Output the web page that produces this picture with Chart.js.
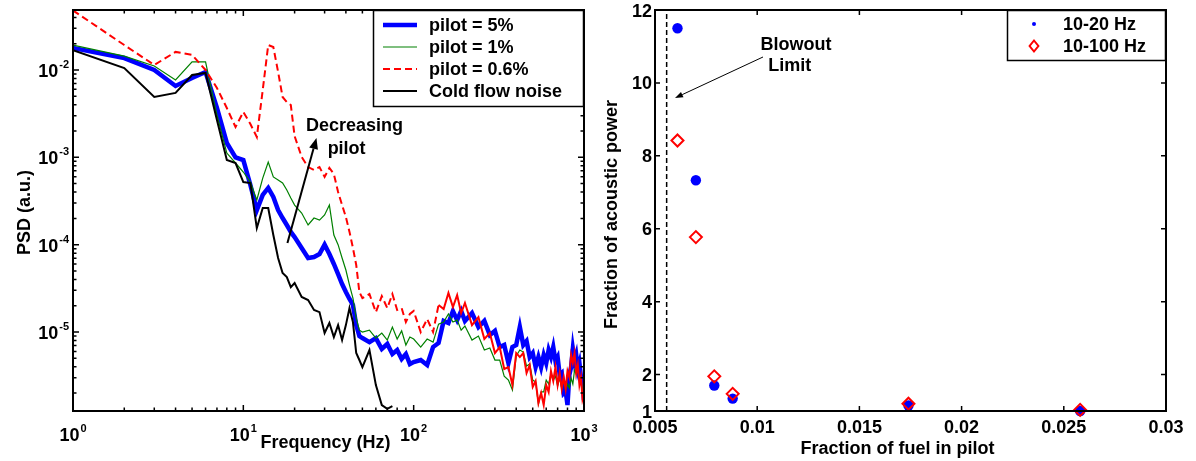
<!DOCTYPE html>
<html><head><meta charset="utf-8">
<script src="https://cdn.jsdelivr.net/npm/chart.js@4.4.0/dist/chart.umd.min.js"></script>
<style>
html,body{margin:0;padding:0;background:#fff;}
#wrap{position:relative;width:1196px;height:461px;overflow:hidden;}
.pane{position:absolute;top:0;width:598px;height:461px;}
</style></head><body>
<div id="wrap">
<div class="pane" style="left:0"><canvas id="c1" width="598" height="461"></canvas></div>
<div class="pane" style="left:598px"><canvas id="c2" width="598" height="461"></canvas></div>
</div>
<script>
// ---------------- data: left panel (PSD) ----------------
const freqs = [1,2,3,4,5,6,7,8,9,10,11,12,13,14,15,16,17,18,19,20,
  22,24,26,28,30,32,34,36,38,40,42,44,46,48,50,
  55,60,65,70,75,80,85,90,95,
  100,110,120,130,140,150,160,170,180,190,200,
  220,240,260,280,300,320,340,360,380,400,420,440,460,480,500,520,540,560,580,600,
  620,640,660,680,700,720,740,760,780,800,820,840,860,880,900,920,940,960,980,1000];

const psdPilot5 = [1.79e-2,1.37e-2,1.0e-2,6.56e-3,8.09e-3,9.48e-3,3.67e-3,1.46e-3,1.0e-3,9.3e-4,4.82e-4,2.49e-4,3.71e-4,4.46e-4,3.52e-4,2.49e-4,2.02e-4,1.68e-4,1.40e-4,1.22e-4,
  9.16e-5,7.03e-5,7.23e-5,7.82e-5,1.0e-4,7.82e-5,6.01e-5,4.61e-5,3.54e-5,2.87e-5,2.39e-5,2.04e-5,1.20e-5,8.99e-6,8.53e-6,
  7.67e-6,8.53e-6,6.39e-6,7.29e-6,5.60e-6,6.22e-6,4.91e-6,5.60e-6,4.30e-6,
  4.53e-6,4.78e-6,4.19e-6,6.73e-6,7.48e-6,1.34e-5,1.27e-5,1.74e-5,1.37e-5,1.74e-5,1.34e-5,
  1.65e-5,1.14e-5,1.34e-5,9.24e-6,1.03e-5,6.73e-6,7.10e-6,4.41e-6,6.73e-6,7.10e-6,1.14e-5,7.10e-6,7.89e-6,5.17e-6,5.75e-6,3.97e-6,5.17e-6,3.97e-6,5.45e-6,4.41e-6,
  6.22e-6,5.17e-6,6.73e-6,4.65e-6,5.17e-6,3.22e-6,3.39e-6,2.00e-6,2.11e-6,1.46e-6,3.22e-6,3.97e-6,6.39e-6,4.65e-6,5.45e-6,3.77e-6,4.41e-6,3.05e-6,3.05e-6,1.66e-6];

const psdPilot1 = [1.93e-2,1.44e-2,1.11e-2,7.68e-3,1.24e-2,1.24e-2,3.05e-3,1.12e-3,8.61e-4,6.79e-4,5.21e-4,3.25e-4,5.79e-4,8.83e-4,5.96e-4,5.50e-4,5.08e-4,4.23e-4,3.42e-4,2.84e-4,
  2.30e-4,1.68e-4,2.02e-4,1.91e-4,2.19e-4,2.84e-4,1.29e-4,1.0e-4,7.03e-5,5.13e-5,3.45e-5,2.45e-5,1.445e-5,1.05e-5,1.0e-5,
  1.05e-5,8.53e-6,9.74e-6,8.09e-6,1.14e-5,8.31e-6,1.03e-5,7.10e-6,8.77e-6,
  8.31e-6,6.73e-6,8.31e-6,7.67e-6,1.23e-5,1.30e-5,1.61e-5,1.30e-5,1.37e-5,1.05e-5,1.17e-5,
  8.09e-6,8.99e-6,6.22e-6,6.56e-6,4.78e-6,4.78e-6,3.13e-6,2.82e-6,2.17e-6,5.31e-6,6.22e-6,5.90e-6,4.08e-6,4.30e-6,2.82e-6,2.67e-6,1.50e-6,2.06e-6,2.06e-6,2.82e-6,
  2.54e-6,3.30e-6,2.82e-6,3.13e-6,2.41e-6,2.97e-6,2.29e-6,2.82e-6,2.17e-6,2.54e-6,2.29e-6,2.97e-6,2.54e-6,3.67e-6,3.30e-6,3.67e-6,2.67e-6,2.97e-6,2.17e-6,2.29e-6];

const psdPilot06 = [4.8e-2,1.93e-2,1.14e-2,1.61e-2,1.49e-2,1.0e-2,6.22e-3,3.67e-3,2.22e-3,3.30e-3,2.41e-3,1.71e-3,5.90e-3,1.93e-2,1.83e-2,9.5e-3,4.91e-3,4.30e-3,3.97e-3,1.75e-3,
  1.01e-3,7.74e-4,7.16e-4,7.74e-4,5.96e-4,7.55e-4,6.44e-4,4.01e-4,2.84e-4,2.07e-4,1.40e-4,9.16e-5,5.85e-5,2.87e-5,2.45e-5,
  2.72e-5,1.69e-5,2.58e-5,1.88e-5,2.72e-5,1.79e-5,1.88e-5,1.30e-5,1.61e-5,
  1.74e-5,1.00e-5,1.41e-5,1.00e-5,2.04e-5,1.83e-5,2.80e-5,1.93e-5,2.65e-5,1.65e-5,2.15e-5,
  1.20e-5,1.48e-5,8.31e-6,9.74e-6,5.75e-6,6.73e-6,3.77e-6,3.97e-6,2.47e-6,5.75e-6,5.17e-6,5.75e-6,3.39e-6,4.19e-6,2.35e-6,2.75e-6,1.54e-6,2.00e-6,1.46e-6,2.47e-6,
  2.06e-6,3.57e-6,2.75e-6,3.97e-6,2.47e-6,3.39e-6,2.23e-6,3.05e-6,2.23e-6,3.57e-6,3.05e-6,5.45e-6,4.41e-6,5.75e-6,3.39e-6,4.19e-6,2.47e-6,3.05e-6,1.71e-6,2.00e-6];

// cold flow noise leaves the plotted range above ~75 Hz
const psdColdFlow = [1.69e-2,1.05e-2,4.91e-3,5.46e-3,8.77e-3,9.24e-3,2.68e-3,9.31e-4,8.61e-4,5.21e-4,5.08e-4,1.55e-4,2.63e-4,2.63e-4,1.29e-4,7.03e-5,4.73e-5,4.26e-5,3.27e-5,3.64e-5,
  2.52e-5,2.32e-5,1.79e-5,1.69e-5,9.74e-6,1.27e-5,8.77e-6,1.20e-5,8.09e-6,1.20e-5,1.88e-5,1.30e-5,5.75e-6,4.78e-6,3.97e-6,
  6.22e-6,2.47e-6,1.46e-6,1.32e-6,1.42e-6];

const xTicksL = [1, 10, 100, 1000];
const xTickExpL = ['0', '1', '2', '3'];
const yTicksL = [1e-2, 1e-3, 1e-4, 1e-5];
const yTickExpL = ['-2', '-3', '-4', '-5'];
const legendLabelsL = ['pilot = 5%', 'pilot = 1%', 'pilot = 0.6%', 'Cold flow noise'];

// ---------------- data: right panel ----------------
const fuelInPilot = [0.0061, 0.0070, 0.0079, 0.0088, 0.0174, 0.0258];
const power10to20 = [11.5, 7.33, 1.70, 1.34, 1.15, 1.00];
const power10to100 = [8.42, 5.77, 1.95, 1.47, 1.20, 1.03];
const blowoutLimit = 0.00557;
const xTicksR = [0.005, 0.01, 0.015, 0.02, 0.025, 0.03];
const xTickLabelsR = ['0.005', '0.01', '0.015', '0.02', '0.025', '0.03'];
const yTicksR = [1, 2, 4, 6, 8, 10, 12];
const legendLabelsR = ['10-20 Hz', '10-100 Hz'];

// ---------------- helpers ----------------
const FONT = '"Liberation Sans", Arial, Helvetica, sans-serif';
const BOLD = 'bold 18px ' + FONT;
const SUP = 'bold 11px ' + FONT;
function pts(xs, ys) { return ys.map((v, i) => ({ x: xs[i], y: v })); }

function arrow(ctx, x0, y0, x1, y1, lw, hl, hw) {
  const a = Math.atan2(y1 - y0, x1 - x0);
  const bx = x1 - hl * Math.cos(a), by = y1 - hl * Math.sin(a);
  ctx.save();
  ctx.strokeStyle = '#000'; ctx.fillStyle = '#000'; ctx.lineWidth = lw;
  ctx.beginPath(); ctx.moveTo(x0, y0); ctx.lineTo(bx, by); ctx.stroke();
  ctx.beginPath(); ctx.moveTo(x1, y1);
  ctx.lineTo(bx + hw * Math.sin(a), by - hw * Math.cos(a));
  ctx.lineTo(bx - hw * Math.sin(a), by + hw * Math.cos(a));
  ctx.closePath(); ctx.fill();
  ctx.restore();
}

function supLabel(ctx, base, exp, x, y, align) {
  ctx.font = BOLD; const wb = ctx.measureText(base).width;
  ctx.font = SUP; const we = ctx.measureText(exp).width;
  const x0 = align === 'center' ? x - (wb + we + 1) / 2 : x - wb - we - 1;
  ctx.textAlign = 'left'; ctx.textBaseline = 'alphabetic';
  ctx.font = BOLD; ctx.fillText(base, x0, y);
  ctx.font = SUP; ctx.fillText(exp, x0 + wb + 1, y - 9);
}

function frame(ctx, ca) {
  ctx.strokeStyle = '#000'; ctx.lineWidth = 2;
  ctx.strokeRect(ca.left, ca.top, ca.right - ca.left, ca.bottom - ca.top);
}
function xTick(ctx, ca, px, len) {
  ctx.beginPath();
  ctx.moveTo(px, ca.bottom); ctx.lineTo(px, ca.bottom - len);
  ctx.moveTo(px, ca.top); ctx.lineTo(px, ca.top + len);
  ctx.stroke();
}
function yTick(ctx, ca, py, len) {
  ctx.beginPath();
  ctx.moveTo(ca.left, py); ctx.lineTo(ca.left + len, py);
  ctx.moveTo(ca.right, py); ctx.lineTo(ca.right - len, py);
  ctx.stroke();
}

// ---------------- left chart ----------------
const seriesStyleL = [
  { color: '#0000ff', width: 4.5, dash: [] },
  { color: '#008000', width: 1.2, dash: [] },
  { color: '#ff0000', width: 2, dash: [7, 4] },
  { color: '#000000', width: 2, dash: [] }
];
// above this frequency the dense red dashes merge into a solid band in the original
const denseDashFrom = 140;

const leftDecor = {
  id: 'leftDecor',
  afterDraw(chart) {
    const ctx = chart.ctx, ca = chart.chartArea, xs = chart.scales.x, ys = chart.scales.y;
    ctx.save();
    frame(ctx, ca);
    ctx.lineWidth = 1.5; ctx.strokeStyle = '#000';
    [1, 10, 100].forEach(d => { for (let m = 2; m <= 9; m++) xTick(ctx, ca, xs.getPixelForValue(d * m), 3.5); });
    xTicksL.forEach(v => xTick(ctx, ca, xs.getPixelForValue(v), 6));
    [1e-6, 1e-5, 1e-4, 1e-3, 1e-2].forEach(d => {
      for (let m = 2; m <= 9; m++) { const v = d * m; if (v > ys.min && v < ys.max) yTick(ctx, ca, ys.getPixelForValue(v), 3.5); }
    });
    yTicksL.forEach(v => yTick(ctx, ca, ys.getPixelForValue(v), 6));
    ctx.fillStyle = '#000';
    xTicksL.forEach((v, i) => supLabel(ctx, '10', xTickExpL[i], xs.getPixelForValue(v), ca.bottom + 30, 'center'));
    yTicksL.forEach((v, i) => supLabel(ctx, '10', yTickExpL[i], ca.left - 4, ys.getPixelForValue(v) + 7, 'right'));
    ctx.font = BOLD; ctx.textAlign = 'center'; ctx.textBaseline = 'alphabetic';
    ctx.fillText('Frequency (Hz)', (ca.left + ca.right) / 2 - 3, ca.bottom + 37);
    ctx.save(); ctx.translate(30, (ca.top + ca.bottom) / 2 + 2); ctx.rotate(-Math.PI / 2);
    ctx.fillText('PSD (a.u.)', 0, 0); ctx.restore();
    arrow(ctx, xs.getPixelForValue(18.15), ys.getPixelForValue(1.045e-4), xs.getPixelForValue(26.88), ys.getPixelForValue(1.665e-3), 2, 11, 4.5);
    ctx.font = BOLD; ctx.textAlign = 'center'; ctx.fillStyle = '#000';
    ctx.fillText('Decreasing', xs.getPixelForValue(44.97), ys.getPixelForValue(1.98e-3));
    ctx.fillText('pilot', xs.getPixelForValue(40.4), ys.getPixelForValue(1.1e-3));
    const lx0 = ca.right - 211, ly0 = ca.top, lw = 211, lh = 97;
    ctx.fillStyle = '#fff'; ctx.fillRect(lx0, ly0, lw, lh);
    ctx.strokeStyle = '#000'; ctx.lineWidth = 1.5; ctx.strokeRect(lx0 + 0.5, ly0 + 0.5, lw - 1, lh - 1);
    legendLabelsL.forEach((t, i) => {
      const ry = ly0 + 15 + i * 22, st = seriesStyleL[i];
      ctx.save(); ctx.strokeStyle = st.color; ctx.lineWidth = st.width; ctx.setLineDash(st.dash);
      ctx.beginPath(); ctx.moveTo(lx0 + 10, ry); ctx.lineTo(lx0 + 44, ry); ctx.stroke(); ctx.restore();
      ctx.fillStyle = '#000'; ctx.font = BOLD; ctx.textAlign = 'left'; ctx.textBaseline = 'alphabetic';
      ctx.fillText(t, lx0 + 56, ry + 6);
    });
    ctx.restore();
  }
};

const seriesL = [psdPilot5, psdPilot1, psdPilot06, psdColdFlow];
new Chart(document.getElementById('c1'), {
  type: 'line',
  data: {
    datasets: seriesL.map((s, i) => {
      const ds = {
        label: legendLabelsL[i],
        data: pts(freqs, s),
        borderColor: seriesStyleL[i].color,
        borderWidth: seriesStyleL[i].width,
        borderDash: seriesStyleL[i].dash,
        pointRadius: 0, tension: 0, fill: false, spanGaps: false,
        order: 4 - i
      };
      if (seriesStyleL[i].dash.length) {
        const d = seriesStyleL[i].dash;
        ds.segment = { borderDash: c => (c.p0.parsed.x >= denseDashFrom ? [] : d) };
      }
      return ds;
    })
  },
  options: {
    responsive: false, animation: false, devicePixelRatio: 1,
    layout: { padding: { left: 73, top: 10, right: 14, bottom: 50 } },
    scales: {
      x: { type: 'logarithmic', min: 1, max: 1000, display: false },
      y: { type: 'logarithmic', min: 1.247e-6, max: 0.0486, display: false }
    },
    plugins: { legend: { display: false }, tooltip: { enabled: false } }
  },
  plugins: [leftDecor]
});

// ---------------- right chart ----------------
const rightDecor = {
  id: 'rightDecor',
  afterDraw(chart) {
    const ctx = chart.ctx, ca = chart.chartArea, xs = chart.scales.x, ys = chart.scales.y;
    ctx.save();
    frame(ctx, ca);
    ctx.lineWidth = 1.5; ctx.strokeStyle = '#000';
    xTicksR.forEach(v => xTick(ctx, ca, xs.getPixelForValue(v), 5));
    yTicksR.forEach(v => yTick(ctx, ca, ys.getPixelForValue(v), 5));
    ctx.fillStyle = '#000'; ctx.font = BOLD; ctx.textBaseline = 'alphabetic';
    ctx.textAlign = 'center';
    xTicksR.forEach((v, i) => ctx.fillText(xTickLabelsR[i], xs.getPixelForValue(v), ca.bottom + 22));
    ctx.textAlign = 'right';
    yTicksR.forEach(v => ctx.fillText(String(v), ca.left - 3, ys.getPixelForValue(v) + 6.5));
    ctx.textAlign = 'center';
    ctx.fillText('Fraction of fuel in pilot', (ca.left + ca.right) / 2 - 13, ca.bottom + 43);
    ctx.save(); ctx.translate(19, (ca.top + ca.bottom) / 2 + 4); ctx.rotate(-Math.PI / 2);
    ctx.fillText('Fraction of acoustic power', 0, 0); ctx.restore();
    ctx.fillText('Blowout', xs.getPixelForValue(0.0119), ys.getPixelForValue(10.916));
    ctx.fillText('Limit', xs.getPixelForValue(0.01159), ys.getPixelForValue(10.313));
    arrow(ctx, xs.getPixelForValue(0.010284), ys.getPixelForValue(10.711), xs.getPixelForValue(0.005978), ys.getPixelForValue(9.586), 1, 8, 3);
    const lx0 = ca.right - 159, ly0 = ca.top, lw = 159, lh = 51;
    ctx.fillStyle = '#fff'; ctx.fillRect(lx0, ly0, lw, lh);
    ctx.strokeStyle = '#000'; ctx.lineWidth = 1.5; ctx.strokeRect(lx0 + 0.5, ly0 + 0.5, lw - 1, lh - 1);
    const mx = lx0 + 27;
    ctx.fillStyle = '#0000ff'; ctx.beginPath(); ctx.arc(mx, ly0 + 14, 2, 0, Math.PI * 2); ctx.fill();
    ctx.strokeStyle = '#ff0000'; ctx.lineWidth = 2; ctx.beginPath();
    const dy = ly0 + 36, r = 5.5;
    ctx.moveTo(mx, dy - r); ctx.lineTo(mx + r * 0.8, dy); ctx.lineTo(mx, dy + r); ctx.lineTo(mx - r * 0.8, dy); ctx.closePath(); ctx.stroke();
    ctx.fillStyle = '#000'; ctx.font = BOLD; ctx.textAlign = 'left';
    ctx.fillText(legendLabelsR[0], lx0 + 56, ly0 + 20);
    ctx.fillText(legendLabelsR[1], lx0 + 56, ly0 + 42);
    ctx.restore();
  }
};

new Chart(document.getElementById('c2'), {
  type: 'scatter',
  data: {
    datasets: [
      { label: 'Blowout limit', type: 'line', data: [{ x: blowoutLimit, y: 1 }, { x: blowoutLimit, y: 12 }],
        borderColor: '#000', borderWidth: 1.5, borderDash: [5, 3], pointRadius: 0, showLine: true, order: 3 },
      { label: legendLabelsR[0], data: pts(fuelInPilot, power10to20), pointStyle: 'circle', pointRadius: 5.2,
        backgroundColor: '#0000ff', borderColor: '#0000ff', borderWidth: 0, clip: false, order: 2 },
      { label: legendLabelsR[1], data: pts(fuelInPilot, power10to100), pointStyle: 'rectRot', pointRadius: 6,
        backgroundColor: 'rgba(0,0,0,0)', borderColor: '#ff0000', borderWidth: 2, clip: false, order: 1 }
    ]
  },
  options: {
    responsive: false, animation: false, devicePixelRatio: 1,
    layout: { padding: { left: 57, top: 10, right: 30, bottom: 50 } },
    scales: {
      x: { type: 'linear', min: 0.005, max: 0.03, display: false },
      y: { type: 'linear', min: 1, max: 12, display: false }
    },
    plugins: { legend: { display: false }, tooltip: { enabled: false } }
  },
  plugins: [rightDecor]
});
</script>
</body></html>
